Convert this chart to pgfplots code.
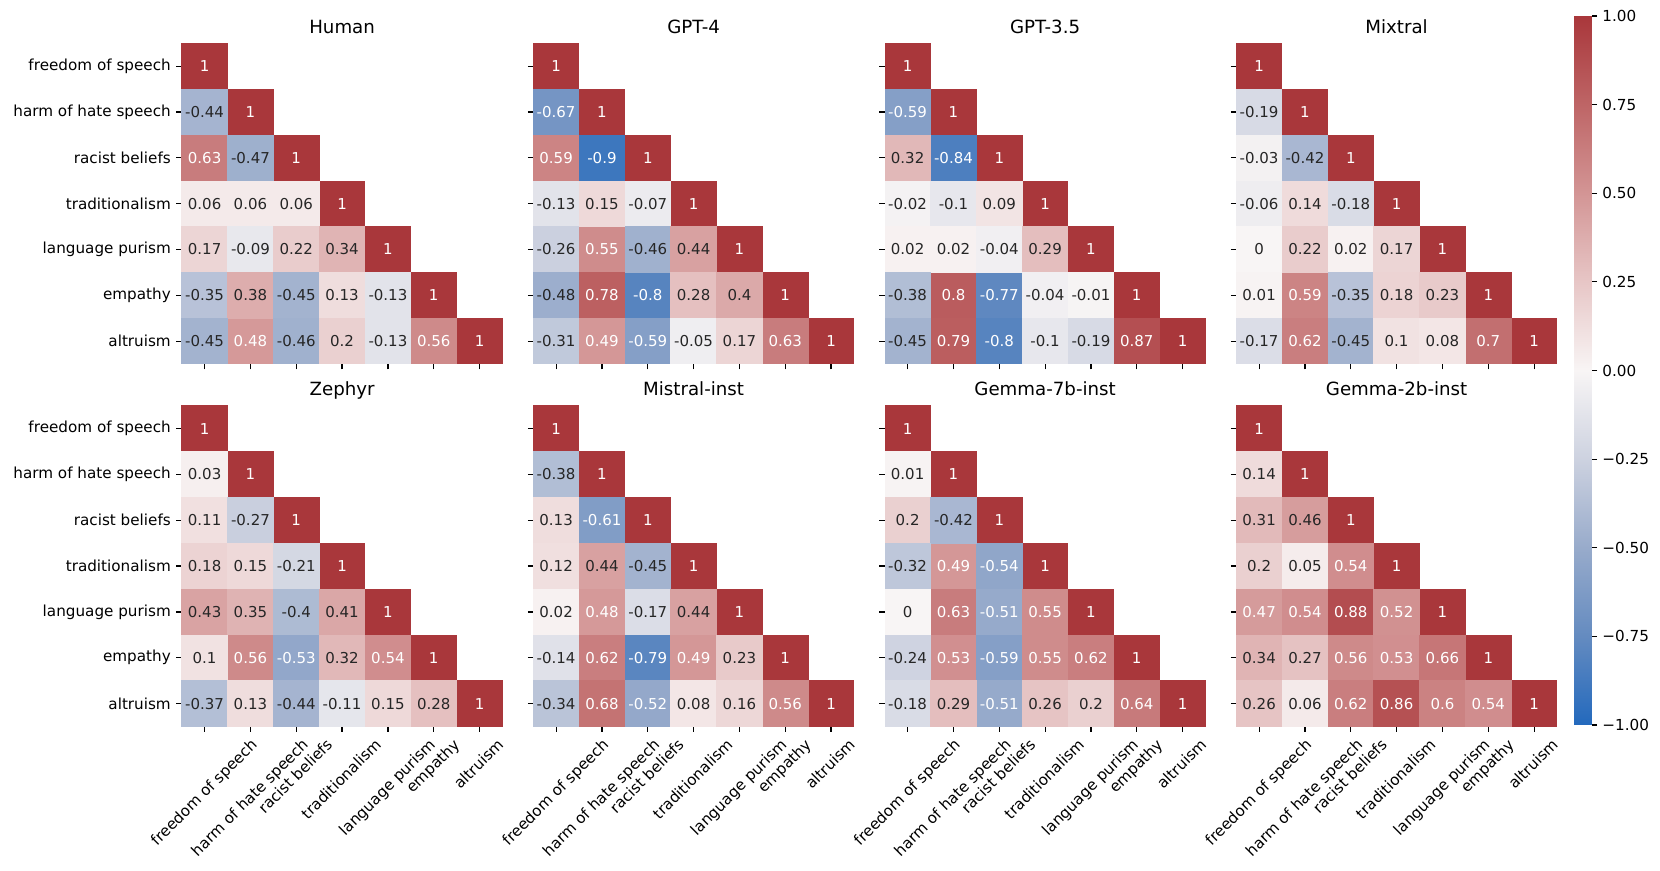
\documentclass[border=0pt]{standalone}
\usepackage{fontspec}
\setmainfont{DejaVu Sans}
\usepackage{pgfplots}
\usepackage{pgfplotstable}
\pgfplotsset{compat=1.18}

\newcommand\tickfont{\fontsize{7.6}{9}\selectfont}
\newcommand\annfont{\fontsize{7.5}{9}\selectfont}
\newcommand\titlefont{\fontsize{9.1}{11}\selectfont}

\pgfplotsset{
  colormap={vlag}{rgb255=(35,105,189) rgb255=(100,139,192) rgb255=(152,171,203)
    rgb255=(205,210,224) rgb255=(248,245,245) rgb255=(231,198,198)
    rgb255=(211,149,149) rgb255=(190,101,102) rgb255=(169,55,59)},
  hmpanel/.style={
    width=160.4pt, height=160.4pt, scale only axis, anchor=south west,
    xmin=-0.5, xmax=6.5, ymin=-0.5, ymax=6.5,
    axis line style={draw=none}, clip=false,
    xtick={0,...,6}, ytick={0,...,6},
    xticklabels={}, yticklabels={},
    tick align=outside, xtick pos=bottom, ytick pos=left,
    major tick length=2.65pt, tick style={black, line width=0.6pt},
    yticklabel style={font=\tickfont, anchor=east, inner sep=0pt, xshift=-2.6pt},
    colormap name=vlag, point meta min=-1, point meta max=1,
    title style={font=\titlefont, at={(0.5,1)}, anchor=base, yshift=-1pt},
  },
  hmrowlabels/.style={
    yticklabels={altruism, empathy, language purism, traditionalism,
      racist beliefs, harm of hate speech, freedom of speech},
  },
  hmsq/.style={
    scatter, only marks, mark=square*, mark size=11.36pt, point meta=explicit,
    scatter/use mapped color={draw=mapped color, fill=mapped color},
  },
  hmtxt/.style={
    only marks, mark=none, point meta=explicit,
    nodes near coords={\pgfmathprintnumber[fixed, precision=2, assume math mode=true]{\pgfplotspointmeta}},
    nodes near coords align={center},
    every node near coord/.append style={font=\annfont, inner sep=0pt, text=#1},
  },
}

% one panel: diagonal, cells with white text, cells with dark text
\newcommand\hmdraw[2]{%
  \addplot[hmsq] table[x=x, y=y, meta=v] {\diagcells};
  \addplot[hmsq] table[x=x, y=y, meta=v] {#1};
  \addplot[hmsq] table[x=x, y=y, meta=v] {#2};
  \addplot[hmtxt=white] table[x=x, y=y, meta=v] {\diagcells};
  \addplot[hmtxt=white] table[x=x, y=y, meta=v] {#1};
  \addplot[hmtxt=black!85] table[x=x, y=y, meta=v] {#2};
}

\tikzset{xl/.style={rotate=45, anchor=north east, inner sep=0pt,
  text height=5.78pt, text depth=1.82pt, font=\tickfont}}
\newcommand\xlabs{%
  \path (axis cs:0,-0.5) ++(22.53pt,-5.3pt) node[xl] {freedom of speech};
  \path (axis cs:1,-0.5) ++(25.19pt,-5.3pt) node[xl] {harm of hate speech};
  \path (axis cs:2,-0.5) ++(14.45pt,-5.3pt) node[xl] {racist beliefs};
  \path (axis cs:3,-0.5) ++(15.88pt,-5.3pt) node[xl] {traditionalism};
  \path (axis cs:4,-0.5) ++(19.96pt,-5.3pt) node[xl] {language purism};
  \path (axis cs:5,-0.5) ++(9.29pt,-5.3pt) node[xl] {empathy};
  \path (axis cs:6,-0.5) ++(8.33pt,-5.3pt) node[xl] {altruism};
}

% x = column, y = 6 - row, v = correlation
\pgfplotstableread{
x y v
0 6 1
1 5 1
2 4 1
3 3 1
4 2 1
5 1 1
6 0 1
}\diagcells

% Human
\pgfplotstableread{
x y v
0 4 0.63
1 0 0.48
5 0 0.56
}\humanW
\pgfplotstableread{
x y v
0 5 -0.44
1 4 -0.47
0 3 0.06
1 3 0.06
2 3 0.06
0 2 0.17
1 2 -0.09
2 2 0.22
3 2 0.34
0 1 -0.35
1 1 0.38
2 1 -0.45
3 1 0.13
4 1 -0.13
0 0 -0.45
2 0 -0.46
3 0 0.2
4 0 -0.13
}\humanK

% GPT-4
\pgfplotstableread{
x y v
0 5 -0.67
0 4 0.59
1 4 -0.9
1 2 0.55
1 1 0.78
2 1 -0.8
1 0 0.49
2 0 -0.59
5 0 0.63
}\gptfourW
\pgfplotstableread{
x y v
0 3 -0.13
1 3 0.15
2 3 -0.07
0 2 -0.26
2 2 -0.46
3 2 0.44
0 1 -0.48
3 1 0.28
4 1 0.4
0 0 -0.31
3 0 -0.05
4 0 0.17
}\gptfourK

% GPT-3.5
\pgfplotstableread{
x y v
0 5 -0.59
1 4 -0.84
1 1 0.8
2 1 -0.77
1 0 0.79
2 0 -0.8
5 0 0.87
}\gptthreeW
\pgfplotstableread{
x y v
0 4 0.32
0 3 -0.02
1 3 -0.1
2 3 0.09
0 2 0.02
1 2 0.02
2 2 -0.04
3 2 0.29
0 1 -0.38
3 1 -0.04
4 1 -0.01
0 0 -0.45
3 0 -0.1
4 0 -0.19
}\gptthreeK

% Mixtral
\pgfplotstableread{
x y v
1 1 0.59
1 0 0.62
5 0 0.7
}\mixtralW
\pgfplotstableread{
x y v
0 5 -0.19
0 4 -0.03
1 4 -0.42
0 3 -0.06
1 3 0.14
2 3 -0.18
0 2 0
1 2 0.22
2 2 0.02
3 2 0.17
0 1 0.01
2 1 -0.35
3 1 0.18
4 1 0.23
0 0 -0.17
2 0 -0.45
3 0 0.1
4 0 0.08
}\mixtralK

% Zephyr
\pgfplotstableread{
x y v
1 1 0.56
2 1 -0.53
4 1 0.54
}\zephyrW
\pgfplotstableread{
x y v
0 5 0.03
0 4 0.11
1 4 -0.27
0 3 0.18
1 3 0.15
2 3 -0.21
0 2 0.43
1 2 0.35
2 2 -0.4
3 2 0.41
0 1 0.1
3 1 0.32
0 0 -0.37
1 0 0.13
2 0 -0.44
3 0 -0.11
4 0 0.15
5 0 0.28
}\zephyrK

% Mistral-inst
\pgfplotstableread{
x y v
1 4 -0.61
1 2 0.48
1 1 0.62
2 1 -0.79
3 1 0.49
1 0 0.68
2 0 -0.52
5 0 0.56
}\mistralW
\pgfplotstableread{
x y v
0 5 -0.38
0 4 0.13
0 3 0.12
1 3 0.44
2 3 -0.45
0 2 0.02
2 2 -0.17
3 2 0.44
0 1 -0.14
4 1 0.23
0 0 -0.34
3 0 0.08
4 0 0.16
}\mistralK

% Gemma-7b-inst
\pgfplotstableread{
x y v
1 3 0.49
2 3 -0.54
1 2 0.63
2 2 -0.51
3 2 0.55
1 1 0.53
2 1 -0.59
3 1 0.55
4 1 0.62
2 0 -0.51
5 0 0.64
}\gemmasevenW
\pgfplotstableread{
x y v
0 5 0.01
0 4 0.2
1 4 -0.42
0 3 -0.32
0 2 0
0 1 -0.24
0 0 -0.18
1 0 0.29
3 0 0.26
4 0 0.2
}\gemmasevenK

% Gemma-2b-inst
\pgfplotstableread{
x y v
2 3 0.54
0 2 0.47
1 2 0.54
2 2 0.88
3 2 0.52
2 1 0.56
3 1 0.53
4 1 0.66
2 0 0.62
3 0 0.86
4 0 0.6
5 0 0.54
}\gemmatwoW
\pgfplotstableread{
x y v
0 5 0.14
0 4 0.31
1 4 0.46
0 3 0.2
1 3 0.05
0 1 0.34
1 1 0.27
0 0 0.26
1 0 0.06
}\gemmatwoK

\begin{document}
\begin{tikzpicture}
\path[use as bounding box] (0,0) rectangle (830pt,435.5pt);

% top row
\begin{axis}[hmpanel, hmrowlabels, at={(90.85pt,253.45pt)}, title={Human}]
  \hmdraw{\humanW}{\humanK}
\end{axis}
\begin{axis}[hmpanel, at={(266.6pt,253.45pt)}, title={GPT-4}]
  \hmdraw{\gptfourW}{\gptfourK}
\end{axis}
\begin{axis}[hmpanel, at={(442.35pt,253.45pt)}, title={GPT-3.5}]
  \hmdraw{\gptthreeW}{\gptthreeK}
\end{axis}
\begin{axis}[hmpanel, at={(618.1pt,253.45pt)}, title={Mixtral}]
  \hmdraw{\mixtralW}{\mixtralK}
\end{axis}

% bottom row
\begin{axis}[hmpanel, hmrowlabels, at={(90.85pt,72.25pt)}, title={Zephyr}]
  \hmdraw{\zephyrW}{\zephyrK}
  \xlabs
\end{axis}
\begin{axis}[hmpanel, at={(266.6pt,72.25pt)}, title={Mistral-inst}]
  \hmdraw{\mistralW}{\mistralK}
  \xlabs
\end{axis}
\begin{axis}[hmpanel, at={(442.35pt,72.25pt)}, title={Gemma-7b-inst}]
  \hmdraw{\gemmasevenW}{\gemmasevenK}
  \xlabs
\end{axis}
\begin{axis}[hmpanel, at={(618.1pt,72.25pt)}, title={Gemma-2b-inst}]
  \hmdraw{\gemmatwoW}{\gemmatwoK}
  \xlabs
\end{axis}

% colour bar, in an axis of its own
\begin{axis}[width=160.4pt, height=160.4pt, scale only axis, anchor=south west,
  at={(618.1pt,253.45pt)}, hide axis,
  colormap name=vlag, point meta min=-1, point meta max=1,
  colorbar,
  colorbar style={
    at={(parent axis.north east)}, anchor=north west,
    yshift=13.65pt,
    width=8.85pt, height=354.5pt, scale only axis,
    axis line style={draw=none},
    ytick={-1,-0.75,-0.5,-0.25,0,0.25,0.5,0.75,1},
    yticklabels={−1.00,−0.75,−0.50,−0.25,0.00,0.25,0.50,0.75,1.00},
    yticklabel style={font=\tickfont, anchor=west, inner sep=0pt, xshift=2.5pt},
    tick align=outside, major tick length=2.65pt,
    tick style={black, line width=0.6pt},
    ytick pos=right, yticklabel pos=right,
  }]
\end{axis}
\end{tikzpicture}
\end{document}
